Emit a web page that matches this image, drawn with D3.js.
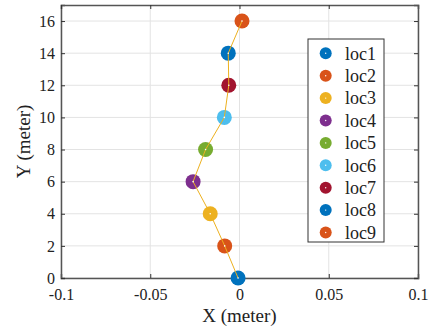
<!DOCTYPE html>
<html><head><meta charset="utf-8">
<script src="https://cdn.jsdelivr.net/npm/d3@7"></script>
<style>body{margin:0;background:#fff}svg{display:block}svg text{font-family:'Liberation Serif','Times New Roman','DejaVu Serif',serif !important;fill:#222}</style>
</head><body><svg id="c" width="433" height="329"></svg>
<script>
const labels = ["loc1","loc2","loc3","loc4","loc5","loc6","loc7","loc8","loc9"];
const xVals = [-0.0008,-0.0083,-0.0164,-0.026,-0.019,-0.0085,-0.006,-0.0063,0.0014];
const yVals = [0,2,4,6,8,10,12,14,16];
const colors = ["#0072BD","#D95319","#EDB120","#7E2F8E","#77AC30","#4DBEEE","#A2142F","#0072BD","#D95319"];
const xTicks = [-0.1,-0.05,0,0.05,0.1];
const xTickLabels = ["-0.1","-0.05","0","0.05","0.1"];
const yTicks = [0,2,4,6,8,10,12,14,16];

const svg = d3.select("#c");
const L=61, R=418, T=5, B=278;
const x = d3.scaleLinear().domain([-0.1,0.1]).range([L,R]);
const y = d3.scaleLinear().domain([0,17]).range([B,T]);

const g = svg.append("g");
g.selectAll(".gx").data(xTicks).join("line").attr("x1",d=>x(d)).attr("x2",d=>x(d)).attr("y1",T).attr("y2",B).attr("stroke","#e3e3e3").attr("stroke-width",1);
g.selectAll(".gy").data(yTicks).join("line").attr("y1",d=>y(d)).attr("y2",d=>y(d)).attr("x1",L).attr("x2",R).attr("stroke","#e3e3e3").attr("stroke-width",1);

const ax = svg.append("g").attr("transform",`translate(0,${B})`).call(d3.axisBottom(x).tickValues(xTicks).tickFormat((d,i)=>xTickLabels[i]).tickSize(-4).tickPadding(11));
const ay = svg.append("g").attr("transform",`translate(${L},0)`).call(d3.axisLeft(y).tickValues(yTicks).tickSize(-4).tickPadding(6));
const axT = svg.append("g").attr("transform",`translate(0,${T})`).call(d3.axisTop(x).tickValues(xTicks).tickFormat("").tickSize(-4));
const ayR = svg.append("g").attr("transform",`translate(${R},0)`).call(d3.axisRight(y).tickValues(yTicks).tickFormat("").tickSize(-4));
[ax,ay,axT,ayR].forEach(a=>{
  a.attr("font-family",null).attr("font-size",null);
  a.select(".domain").attr("stroke","#555").attr("stroke-width",1.5);
  a.selectAll(".tick line").attr("stroke","#333");
  a.selectAll("text").style("font-size","16px").attr("fill","#222");
});
ax.selectAll("text").attr("dy","0.71em");

const pts = xVals.map((v,i)=>[v,yVals[i]]);
svg.selectAll(".m").data(pts).join("circle").attr("cx",d=>x(d[0])).attr("cy",d=>y(d[1])).attr("r",7.5).attr("fill",(d,i)=>colors[i]);
svg.append("path").datum(pts).attr("d",d3.line().x(d=>x(d[0])).y(d=>y(d[1]))).attr("fill","none").attr("stroke","#EDB120").attr("stroke-width",1);
svg.selectAll(".md").data(pts).join("circle").attr("cx",d=>x(d[0])).attr("cy",d=>y(d[1])).attr("r",0.8).attr("fill","#fff");

svg.append("text").attr("x",(L+R)/2).attr("y",322).attr("text-anchor","middle").style("font-size","19px").text("X (meter)");
svg.append("text").attr("transform",`translate(30,${(T+B)/2}) rotate(-90)`).attr("text-anchor","middle").style("font-size","19px").text("Y (meter)");

const lg = svg.append("g");
lg.append("rect").attr("x",308).attr("y",39).attr("width",76).attr("height",203).attr("fill","#fff").attr("stroke","#333").attr("stroke-width",1);
labels.forEach((l,i)=>{
  const cy = 53.3 + i*22.4;
  lg.append("circle").attr("cx",325.7).attr("cy",cy).attr("r",6).attr("fill",colors[i]);
  lg.append("circle").attr("cx",325.7).attr("cy",cy).attr("r",0.7).attr("fill","#fff");
  lg.append("text").attr("x",345).attr("y",cy).attr("dy","0.35em").style("font-size","18px").text(l);
});
</script></body></html>
